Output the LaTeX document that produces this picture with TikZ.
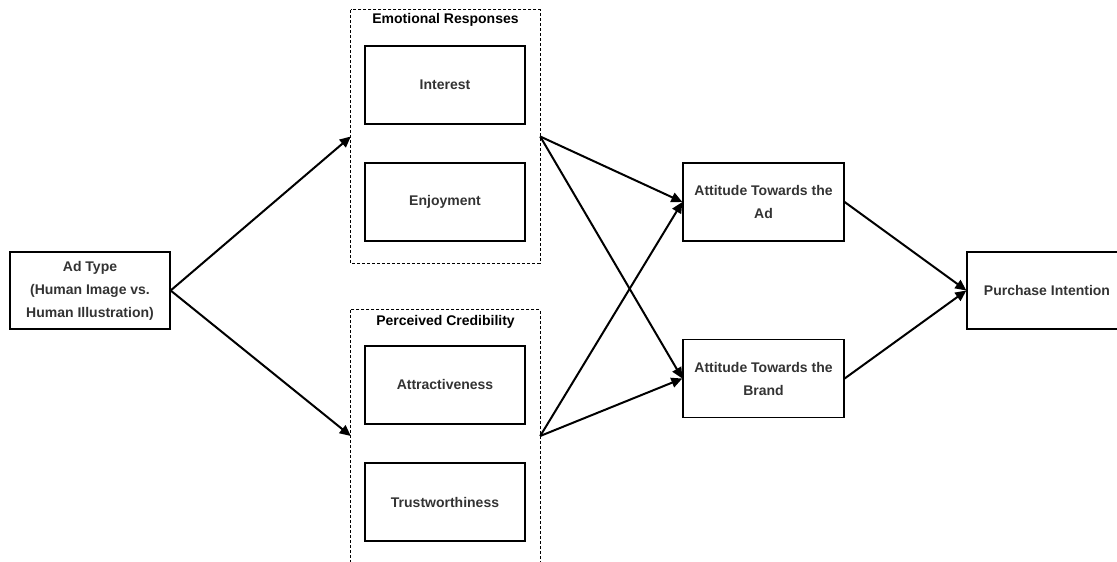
\documentclass[tikz,border=0pt]{standalone}
\usepackage{fontspec}
\setmainfont{Liberation Sans}
\usetikzlibrary{arrows.meta, positioning}
\definecolor{txtgray}{HTML}{333333}

\begin{document}
\begin{tikzpicture}[x=1pt, y=1pt, node distance=117pt, font=\fontsize{14}{23}\selectfont\bfseries,
  main node/.style={rectangle, draw, line width=1.3pt, minimum width=160pt, minimum height=78pt, align=center, text=txtgray, inner sep=0pt},
  group node/.style={rectangle, minimum width=189pt, minimum height=253pt, inner sep=0pt},
  dashed box/.style={line width=1.2pt, dash pattern=on 3pt off 2pt},
  link/.style={line width=2pt, -{Triangle[length=11pt, width=10pt]}}]
\useasboundingbox (0,0) rectangle (1117,562);
\node[group node](er) at (445.5,425.5){};
\node[group node, minimum height=252pt](pc) at (445.5,126){};
\draw[dashed box] (er.north west) rectangle (er.south east);
\draw[dashed box] (pc.north west) rectangle ([yshift=-10pt]pc.south east);
\node(ertitle) at (445.5,542){Emotional Responses};
\node(pctitle) at (445.5,240){Perceived Credibility};
\node[main node](interest) at (445,477){Interest};
\node[main node](enjoy)[below of = interest]{Enjoyment};
\node[main node](attract) at (445,177){Attractiveness};
\node[main node](trust)[below of = attract]{Trustworthiness};
\node[main node, minimum height=77pt](adtype) at (90,271.5){Ad Type\\(Human Image vs.\\Human Illustration)};
\node[main node, minimum width=161pt](ata) at (763.5,360){Attitude Towards the\\Ad};
\tikzset{node distance = 176.5pt}
\node[main node, minimum width=161pt](atb)[below of = ata]{Attitude Towards the\\Brand};
\node[main node, minimum height=77pt](pi) at (1047,271.5){Purchase Intention};
\foreach \s/\t in {adtype/er, adtype/pc, er/ata, er/atb, pc/ata, pc/atb, ata/pi, atb/pi}{
    \draw[link] (\s.east) -- (\t.west);}
\end{tikzpicture}
\end{document}
